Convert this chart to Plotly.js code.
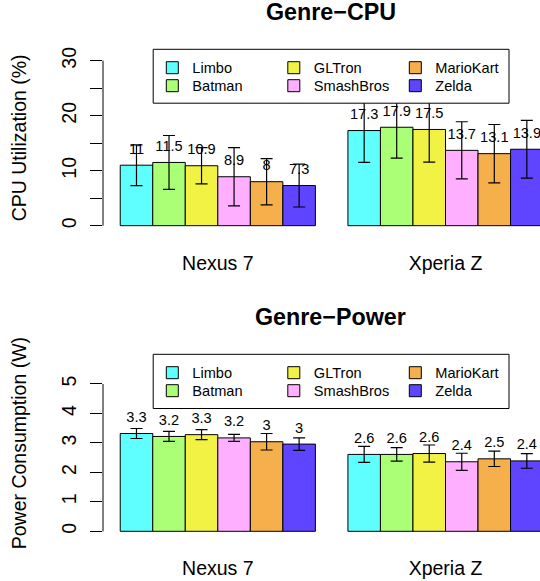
<!DOCTYPE html>
<html><head><meta charset="utf-8">
<script src="https://cdn.plot.ly/plotly-3.0.1.min.js"></script>
<style>html,body{margin:0;padding:0;background:#fff;} #chart{width:540px;height:581px;}</style>
</head><body><div id="chart"></div>
<script>
// ---- data ----
const groups = ['Nexus 7', 'Xperia Z'];
const games = ['Limbo', 'Batman', 'GLTron', 'SmashBros', 'MarioKart', 'Zelda'];
const gameColors = ['#5FFFFF', '#AAFF77', '#F2F244', '#FFAFFF', '#F5AF4B', '#5F45FF'];

const cpuNexus7 = [11.0, 11.5, 10.9, 8.9, 8.0, 7.3];
const cpuXperiaZ = [17.3, 17.9, 17.5, 13.7, 13.1, 13.9];
const cpuErrNexus7 = [3.7, 4.9, 3.3, 5.3, 4.2, 3.9];
const cpuErrXperiaZ = [5.8, 5.6, 5.95, 5.2, 5.3, 5.25];

const powerNexus7 = [3.32, 3.22, 3.28, 3.17, 3.04, 2.96];
const powerXperiaZ = [2.61, 2.61, 2.64, 2.36, 2.46, 2.39];
const powerErrNexus7 = [0.17, 0.17, 0.17, 0.12, 0.28, 0.21];
const powerErrXperiaZ = [0.27, 0.23, 0.29, 0.29, 0.26, 0.25];

const cpuTickVals = [0, 5, 10, 15, 20, 25, 30];
const cpuTickText = ['0', '', '10', '', '20', '', '30'];
const powerTickVals = [0, 1, 2, 3, 4, 5];
const powerTickText = ['0', '1', '2', '3', '4', '5'];

// ---- build ----
const FONT = 'Liberation Sans, Arial, Helvetica, sans-serif';
const W = 540, H = 581, L = 103;
const px2x = p => (p - L) / (W - L);
const py2y = p => 1 - p / H;
const fmt = v => String(Math.round(v * 10) / 10);

const traces = [];
function addPanel(a, b, ea, eb, xa, ya, legA, legB) {
  games.forEach((g, i) => {
    const ys = [a[i], b[i]];
    traces.push({
      type: 'bar', name: g, x: groups, y: ys,
      xaxis: xa, yaxis: ya, offsetgroup: 'g' + i,
      legend: i % 2 === 0 ? legA : legB,
      marker: {color: gameColors[i], line: {color: '#000', width: 1}},
      error_y: {type: 'data', array: [ea[i], eb[i]], visible: true, color: '#000', thickness: 1.2, width: 6},
      hoverinfo: 'skip'
    });
    traces.push({
      type: 'scatter', mode: 'markers+text', x: groups, y: ys,
      text: ys.map(fmt), textposition: 'top center',
      textfont: {family: FONT, size: 14.6, color: '#000'},
      marker: {size: 11, opacity: 0},
      xaxis: xa, yaxis: ya, offsetgroup: 'g' + i, orientation: 'v',
      showlegend: false, hoverinfo: 'skip'
    });
  });
}
addPanel(cpuNexus7, cpuXperiaZ, cpuErrNexus7, cpuErrXperiaZ, 'x', 'y', 'legend', 'legend2');
addPanel(powerNexus7, powerXperiaZ, powerErrNexus7, powerErrXperiaZ, 'x2', 'y2', 'legend3', 'legend4');

const xRange = [-0.5042, 1.4150];
const xCommon = {
  type: 'category', range: xRange, showline: false, showgrid: false, zeroline: false,
  ticks: '', tickfont: {family: FONT, size: 19.5, color: '#000'}, ticklabelstandoff: 17, fixedrange: true
};
const yCommon = {
  showline: false, showgrid: false, zeroline: false, ticks: 'outside', ticklen: 12, tickwidth: 1,
  tickcolor: '#000', tickangle: -90, ticklabelstandoff: 6,
  tickfont: {family: FONT, size: 19.5, color: '#000'}, fixedrange: true
};
const legCommon = {
  orientation: 'h', xanchor: 'left', yanchor: 'middle', bgcolor: 'rgba(0,0,0,0)', borderwidth: 0,
  entrywidth: 76.5, font: {family: FONT, size: 14.6, color: '#000'}, x: px2x(152.3)
};

const layout = {
  width: W, height: H, margin: {l: L, r: 0, t: 0, b: 0},
  paper_bgcolor: '#fff', plot_bgcolor: '#fff',
  barmode: 'group', bargap: 1 / 7, bargroupgap: 0,
  scattermode: 'group', scattergap: 1 / 7,
  font: {family: FONT, color: '#000'},
  xaxis: Object.assign({}, xCommon, {anchor: 'y'}),
  xaxis2: Object.assign({}, xCommon, {anchor: 'y2'}),
  yaxis: Object.assign({}, yCommon, {range: [-1.2, 33], domain: [0.6002, 0.9239], tickvals: cpuTickVals, ticktext: cpuTickText, anchor: 'x'}),
  yaxis2: Object.assign({}, yCommon, {range: [-0.2, 5.9], domain: [0.0754, 0.3847], tickvals: powerTickVals, ticktext: powerTickText, anchor: 'x2'}),
  legend: Object.assign({}, legCommon, {y: py2y(67.7)}),
  legend2: Object.assign({}, legCommon, {y: py2y(85.7)}),
  legend3: Object.assign({}, legCommon, {y: py2y(372.7)}),
  legend4: Object.assign({}, legCommon, {y: py2y(390.7)}),
  shapes: [
    {type: 'line', xref: 'paper', yref: 'y', x0: 0, x1: 0, y0: cpuTickVals[0], y1: cpuTickVals[cpuTickVals.length - 1], line: {color: '#000', width: 1}},
    {type: 'line', xref: 'paper', yref: 'y2', x0: 0, x1: 0, y0: powerTickVals[0], y1: powerTickVals[powerTickVals.length - 1], line: {color: '#000', width: 1}},
    {type: 'rect', xref: 'paper', yref: 'paper', layer: 'above', x0: px2x(153.2), x1: px2x(509), y0: py2y(103.2), y1: py2y(49.3), fillcolor: '#fff', line: {color: '#000', width: 1}},
    {type: 'rect', xref: 'paper', yref: 'paper', layer: 'above', x0: px2x(153.2), x1: px2x(509), y0: py2y(408.5), y1: py2y(354.3), fillcolor: '#fff', line: {color: '#000', width: 1}}
  ],
  annotations: [
    {text: '<b>Genre−CPU</b>', xref: 'paper', yref: 'paper', x: px2x(330.6), y: py2y(12.5), xanchor: 'center', yanchor: 'middle', showarrow: false, font: {family: FONT, size: 23.3, color: '#000'}},
    {text: '<b>Genre−Power</b>', xref: 'paper', yref: 'paper', x: px2x(330.6), y: py2y(316.7), xanchor: 'center', yanchor: 'middle', showarrow: false, font: {family: FONT, size: 23.3, color: '#000'}},
    {text: 'CPU Utilization (%)', xref: 'paper', yref: 'paper', x: px2x(19), y: py2y(138.3), xanchor: 'center', yanchor: 'middle', textangle: -90, showarrow: false, font: {family: FONT, size: 19.5, color: '#000'}},
    {text: 'Power Consumption (W)', xref: 'paper', yref: 'paper', x: px2x(19), y: py2y(443.3), xanchor: 'center', yanchor: 'middle', textangle: -90, showarrow: false, font: {family: FONT, size: 19.5, color: '#000'}}
  ]
};

Plotly.newPlot('chart', traces, layout, {displayModeBar: false, staticPlot: true});
</script>
</body></html>
